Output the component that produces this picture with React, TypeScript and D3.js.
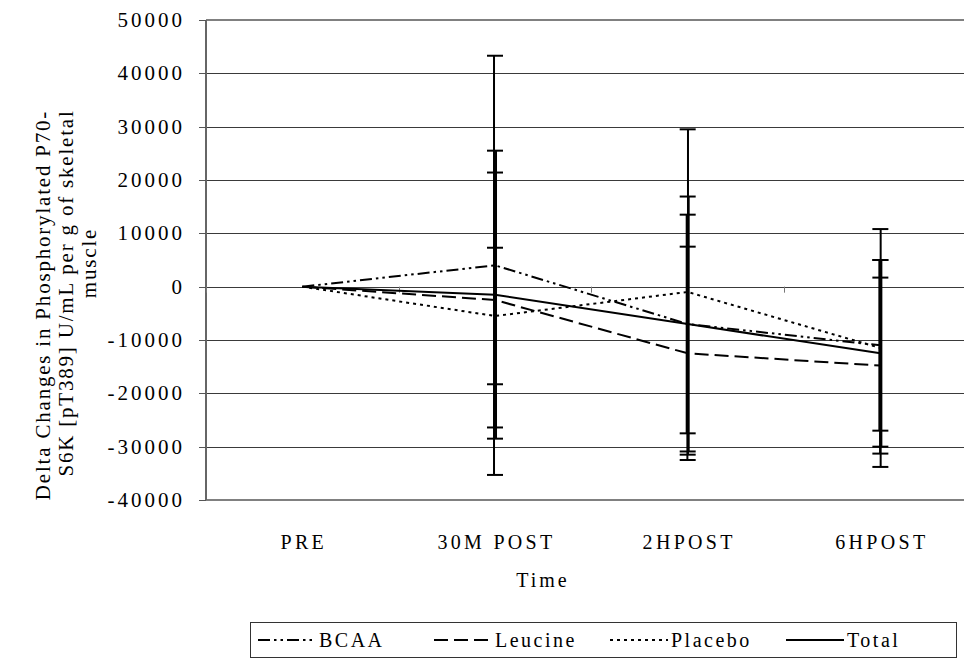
import React from "react";
import * as d3 from "d3";

const categories = ["PRE", "30M POST", "2HPOST", "6HPOST"];
const seriesNames = ["BCAA", "Leucine", "Placebo", "Total"];
const bcaaMean = [0, 4000, -7000, -11000];
const bcaaSD = [0, 39300, 20500, 16000];
const leucineMean = [0, -2500, -12500, -14800];
const leucineSD = [0, 23900, 20000, 16500];
const placeboMean = [0, -5500, -1000, -11500];
const placeboSD = [0, 12800, 30500, 22300];
const totalMean = [0, -1500, -7000, -12500];
const totalSD = [0, 27000, 23900, 17500];
const yTicks = [-40000, -30000, -20000, -10000, 0, 10000, 20000, 30000, 40000, 50000];

const series = [
  { name: seriesNames[0], mean: bcaaMean, sd: bcaaSD, dash: "12,4,2.5,4,2.5,4" },
  { name: seriesNames[1], mean: leucineMean, sd: leucineSD, dash: "14,6" },
  { name: seriesNames[2], mean: placeboMean, sd: placeboSD, dash: "3,4" },
  { name: seriesNames[3], mean: totalMean, sd: totalSD, dash: "" },
];

const FONT = "'Liberation Serif', 'Times New Roman', serif";

export default function App() {
  const left = 206, top = 20, bottom = 500, right = 976.7;
  const step = (right - left) / categories.length;
  const x = d3.scalePoint<string>().domain(categories).range([left + step / 2, right - step / 2]);
  const y = d3.scaleLinear().domain([-40000, 50000]).range([bottom, top]);
  const line = d3.line<number>().x((_, i) => x(categories[i])!).y((v) => y(v));
  const offsets = [-1, -0.3, 0.3, 1];
  const boundaries = d3.range(categories.length + 1).map((i) => left + i * step);

  const legendStart = 258;
  const legendSlot = 176;
  const sampleLen = 58;

  return (
    <svg width={964} height={659} style={{ position: "absolute", left: 0, top: 0, background: "#fff" }} fontFamily={FONT}>
      <rect x={0} y={0} width={964} height={659} fill="#fff" />
      {yTicks.filter((t) => t !== -40000 && t !== 50000).map((t) => (
        <line key={t} x1={left} x2={964} y1={Math.round(y(t)) + 0.5} y2={Math.round(y(t)) + 0.5} stroke="#3a3a3a" strokeWidth={1} />
      ))}
      <line x1={left} x2={964} y1={y(50000)} y2={y(50000)} stroke="#808080" strokeWidth={2} />
      <line x1={left} x2={964} y1={y(-40000)} y2={y(-40000)} stroke="#808080" strokeWidth={2} />
      <line x1={left} x2={left} y1={top} y2={bottom} stroke="#666" strokeWidth={2} />
      {yTicks.map((t) => (
        <g key={"yt" + t}>
          <line x1={left - 7} x2={left} y1={Math.round(y(t)) + 0.5} y2={Math.round(y(t)) + 0.5} stroke="#555" strokeWidth={1} />
          <text x={185} y={y(t) + 7} textAnchor="end" fontSize={21} letterSpacing={3} fill="#000">
            {t}
          </text>
        </g>
      ))}
      {boundaries.map((b, i) => (
        <line key={"xt" + i} x1={Math.round(b) + 0.5} x2={Math.round(b) + 0.5} y1={y(0)} y2={y(0) + 6} stroke="#777" strokeWidth={1} />
      ))}
      {categories.map((c) => (
        <text key={c} x={x(c)! + 1.5} y={549} textAnchor="middle" fontSize={20} letterSpacing={3.3} fill="#000">
          {c}
        </text>
      ))}
      <text x={543} y={587} textAnchor="middle" fontSize={20} letterSpacing={3} fill="#000">
        Time
      </text>
      <g fontSize={21} fill="#000" letterSpacing={1.8}>
        <text transform={`translate(50,305) rotate(-90)`} textAnchor="middle">Delta Changes in Phosphorylated P70-</text>
        <text transform={`translate(73,293) rotate(-90)`} textAnchor="middle">S6K [pT389] U/mL per g of skeletal</text>
        <text transform={`translate(96,263) rotate(-90)`} textAnchor="middle">muscle</text>
      </g>
      {series.map((s, si) => (
        <g key={"eb" + s.name}>
          {categories.map((c, i) => {
            if (s.sd[i] === 0) return null;
            const cx = x(c)! + offsets[si];
            const y1 = y(s.mean[i] + s.sd[i]);
            const y2 = y(s.mean[i] - s.sd[i]);
            return (
              <g key={c}>
                <line x1={cx} x2={cx} y1={y1} y2={y2} stroke="#000" strokeWidth={2} />
                <line x1={x(c)! - 8} x2={x(c)! + 8} y1={y1} y2={y1} stroke="#000" strokeWidth={2} />
                <line x1={x(c)! - 8} x2={x(c)! + 8} y1={y2} y2={y2} stroke="#000" strokeWidth={2} />
              </g>
            );
          })}
        </g>
      ))}
      {series.map((s) => (
        <path key={s.name} d={line(s.mean)!} fill="none" stroke="#000" strokeWidth={2} strokeDasharray={s.dash || undefined} />
      ))}
      <rect x={250.5} y={622.5} width={706} height={35} fill="#fff" stroke="#333" strokeWidth={1} />
      {series.map((s, i) => {
        const sx = legendStart + i * legendSlot;
        return (
          <g key={"lg" + s.name}>
            <line x1={sx} x2={sx + sampleLen} y1={640} y2={640} stroke="#000" strokeWidth={2} strokeDasharray={s.dash || undefined} />
            <text x={sx + sampleLen + 3} y={647} fontSize={20} letterSpacing={2.5} fill="#000">
              {s.name}
            </text>
          </g>
        );
      })}
    </svg>
  );
}
